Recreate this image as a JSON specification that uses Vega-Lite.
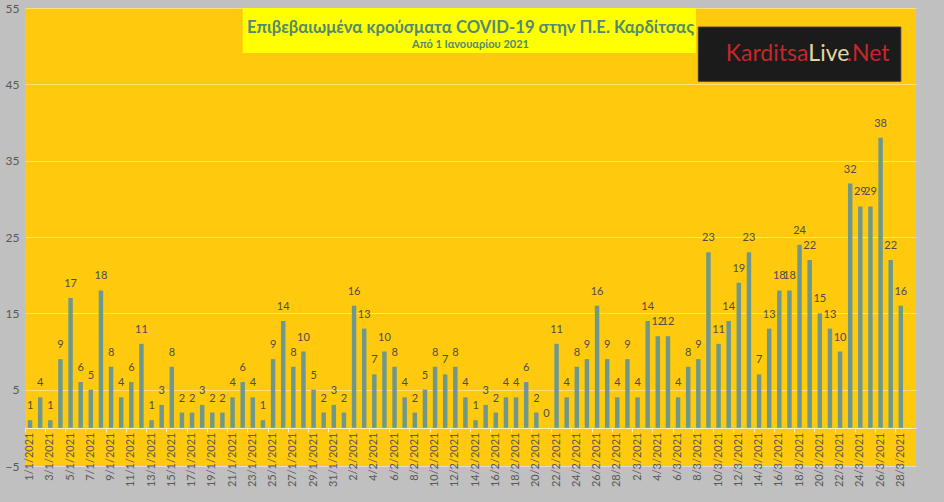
{
  "$schema": "https://vega.github.io/schema/vega-lite/v6.json",
  "width": 891,
  "height": 458,
  "autosize": {"type": "none"},
  "padding": {"left": 25, "top": 8, "right": 28, "bottom": 36},
  "background": "#c0c0c0",
  "title": {
    "text": "Επιβεβαιωμένα κρούσματα COVID-19 στην Π.Ε. Καρδίτσας",
    "subtitle": "Από 1 Ιανουαρίου 2021",
    "anchor": "middle",
    "frame": "group",
    "offset": -48,
    "font": "Lato",
    "fontSize": 16.7,
    "fontWeight": "bold",
    "color": "#528a72",
    "subtitleFont": "Lato",
    "subtitleFontSize": 11,
    "subtitleFontWeight": "bold",
    "subtitleColor": "#528a72",
    "subtitlePadding": 2
  },
  "data": {
    "values": [
      {"date": "1/1/2021", "cases": 1}, {"date": "2/1/2021", "cases": 4}, {"date": "3/1/2021", "cases": 1},
      {"date": "4/1/2021", "cases": 9}, {"date": "5/1/2021", "cases": 17}, {"date": "6/1/2021", "cases": 6},
      {"date": "7/1/2021", "cases": 5}, {"date": "8/1/2021", "cases": 18}, {"date": "9/1/2021", "cases": 8},
      {"date": "10/1/2021", "cases": 4}, {"date": "11/1/2021", "cases": 6}, {"date": "12/1/2021", "cases": 11},
      {"date": "13/1/2021", "cases": 1}, {"date": "14/1/2021", "cases": 3}, {"date": "15/1/2021", "cases": 8},
      {"date": "16/1/2021", "cases": 2}, {"date": "17/1/2021", "cases": 2}, {"date": "18/1/2021", "cases": 3},
      {"date": "19/1/2021", "cases": 2}, {"date": "20/1/2021", "cases": 2}, {"date": "21/1/2021", "cases": 4},
      {"date": "22/1/2021", "cases": 6}, {"date": "23/1/2021", "cases": 4}, {"date": "24/1/2021", "cases": 1},
      {"date": "25/1/2021", "cases": 9}, {"date": "26/1/2021", "cases": 14}, {"date": "27/1/2021", "cases": 8},
      {"date": "28/1/2021", "cases": 10}, {"date": "29/1/2021", "cases": 5}, {"date": "30/1/2021", "cases": 2},
      {"date": "31/1/2021", "cases": 3},
      {"date": "1/2/2021", "cases": 2}, {"date": "2/2/2021", "cases": 16}, {"date": "3/2/2021", "cases": 13},
      {"date": "4/2/2021", "cases": 7}, {"date": "5/2/2021", "cases": 10}, {"date": "6/2/2021", "cases": 8},
      {"date": "7/2/2021", "cases": 4}, {"date": "8/2/2021", "cases": 2}, {"date": "9/2/2021", "cases": 5},
      {"date": "10/2/2021", "cases": 8}, {"date": "11/2/2021", "cases": 7}, {"date": "12/2/2021", "cases": 8},
      {"date": "13/2/2021", "cases": 4}, {"date": "14/2/2021", "cases": 1}, {"date": "15/2/2021", "cases": 3},
      {"date": "16/2/2021", "cases": 2}, {"date": "17/2/2021", "cases": 4}, {"date": "18/2/2021", "cases": 4},
      {"date": "19/2/2021", "cases": 6}, {"date": "20/2/2021", "cases": 2}, {"date": "21/2/2021", "cases": 0},
      {"date": "22/2/2021", "cases": 11}, {"date": "23/2/2021", "cases": 4}, {"date": "24/2/2021", "cases": 8},
      {"date": "25/2/2021", "cases": 9}, {"date": "26/2/2021", "cases": 16}, {"date": "27/2/2021", "cases": 9},
      {"date": "28/2/2021", "cases": 4},
      {"date": "1/3/2021", "cases": 9}, {"date": "2/3/2021", "cases": 4}, {"date": "3/3/2021", "cases": 14},
      {"date": "4/3/2021", "cases": 12}, {"date": "5/3/2021", "cases": 12}, {"date": "6/3/2021", "cases": 4},
      {"date": "7/3/2021", "cases": 8}, {"date": "8/3/2021", "cases": 9}, {"date": "9/3/2021", "cases": 23},
      {"date": "10/3/2021", "cases": 11}, {"date": "11/3/2021", "cases": 14}, {"date": "12/3/2021", "cases": 19},
      {"date": "13/3/2021", "cases": 23}, {"date": "14/3/2021", "cases": 7}, {"date": "15/3/2021", "cases": 13},
      {"date": "16/3/2021", "cases": 18}, {"date": "17/3/2021", "cases": 18}, {"date": "18/3/2021", "cases": 24},
      {"date": "19/3/2021", "cases": 22}, {"date": "20/3/2021", "cases": 15}, {"date": "21/3/2021", "cases": 13},
      {"date": "22/3/2021", "cases": 10}, {"date": "23/3/2021", "cases": 32}, {"date": "24/3/2021", "cases": 29},
      {"date": "25/3/2021", "cases": 29}, {"date": "26/3/2021", "cases": 38}, {"date": "27/3/2021", "cases": 22},
      {"date": "28/3/2021", "cases": 16}
    ]
  },
  "layer": [
    {
      "mark": {"type": "bar", "color": "#6f988c"},
      "encoding": {
        "x": {
          "field": "date",
          "type": "nominal",
          "scale": {
            "domain": [
              "1/1/2021", "2/1/2021", "3/1/2021", "4/1/2021", "5/1/2021", "6/1/2021", "7/1/2021", "8/1/2021",
              "9/1/2021", "10/1/2021", "11/1/2021", "12/1/2021", "13/1/2021", "14/1/2021", "15/1/2021", "16/1/2021",
              "17/1/2021", "18/1/2021", "19/1/2021", "20/1/2021", "21/1/2021", "22/1/2021", "23/1/2021", "24/1/2021",
              "25/1/2021", "26/1/2021", "27/1/2021", "28/1/2021", "29/1/2021", "30/1/2021", "31/1/2021",
              "1/2/2021", "2/2/2021", "3/2/2021", "4/2/2021", "5/2/2021", "6/2/2021", "7/2/2021", "8/2/2021",
              "9/2/2021", "10/2/2021", "11/2/2021", "12/2/2021", "13/2/2021", "14/2/2021", "15/2/2021", "16/2/2021",
              "17/2/2021", "18/2/2021", "19/2/2021", "20/2/2021", "21/2/2021", "22/2/2021", "23/2/2021", "24/2/2021",
              "25/2/2021", "26/2/2021", "27/2/2021", "28/2/2021",
              "1/3/2021", "2/3/2021", "3/3/2021", "4/3/2021", "5/3/2021", "6/3/2021", "7/3/2021", "8/3/2021",
              "9/3/2021", "10/3/2021", "11/3/2021", "12/3/2021", "13/3/2021", "14/3/2021", "15/3/2021", "16/3/2021",
              "17/3/2021", "18/3/2021", "19/3/2021", "20/3/2021", "21/3/2021", "22/3/2021", "23/3/2021", "24/3/2021",
              "25/3/2021", "26/3/2021", "27/3/2021", "28/3/2021", "29/3/2021"
            ],
            "paddingInner": 0.56,
            "paddingOuter": 0.28
          },
          "axis": {
            "values": [
              "1/1/2021", "3/1/2021", "5/1/2021", "7/1/2021", "9/1/2021", "11/1/2021", "13/1/2021", "15/1/2021",
              "17/1/2021", "19/1/2021", "21/1/2021", "23/1/2021", "25/1/2021", "27/1/2021", "29/1/2021", "31/1/2021",
              "2/2/2021", "4/2/2021", "6/2/2021", "8/2/2021", "10/2/2021", "12/2/2021", "14/2/2021", "16/2/2021",
              "18/2/2021", "20/2/2021", "22/2/2021", "24/2/2021", "26/2/2021", "28/2/2021",
              "2/3/2021", "4/3/2021", "6/3/2021", "8/3/2021", "10/3/2021", "12/3/2021", "14/3/2021", "16/3/2021",
              "18/3/2021", "20/3/2021", "22/3/2021", "24/3/2021", "26/3/2021", "28/3/2021"
            ],
            "orient": "bottom",
            "title": null,
            "labelAngle": -90,
            "offset": -38,
            "ticks": false,
            "grid": false,
            "domainColor": "#ffffff",
            "domainOpacity": 0.7,
            "labelPadding": 4,
            "labelFont": "Lato",
            "labelFontSize": 11,
            "labelColor": "#595959"
          }
        },
        "y": {
          "field": "cases",
          "type": "quantitative",
          "scale": {"domain": [-5, 55], "nice": false, "zero": false},
          "axis": {
            "values": [-5, 5, 15, 25, 35, 45, 55],
            "title": null,
            "grid": true,
            "gridColor": "#ffffff",
            "gridOpacity": 0.45,
            "ticks": false,
            "domain": false,
            "labelFlush": false,
            "labelPadding": 6,
            "labelFont": "Lato",
            "labelFontSize": 12,
            "labelColor": "#595959"
          }
        },
        "y2": {"datum": 0}
      }
    },
    {
      "mark": {"type": "text", "baseline": "middle", "dy": -14, "font": "Lato", "fontSize": 11, "color": "#4d4d4d"},
      "encoding": {
        "x": {
          "field": "date",
          "type": "nominal",
          "axis": {
            "values": [
              "1/1/2021", "3/1/2021", "5/1/2021", "7/1/2021", "9/1/2021", "11/1/2021", "13/1/2021", "15/1/2021",
              "17/1/2021", "19/1/2021", "21/1/2021", "23/1/2021", "25/1/2021", "27/1/2021", "29/1/2021", "31/1/2021",
              "2/2/2021", "4/2/2021", "6/2/2021", "8/2/2021", "10/2/2021", "12/2/2021", "14/2/2021", "16/2/2021",
              "18/2/2021", "20/2/2021", "22/2/2021", "24/2/2021", "26/2/2021", "28/2/2021",
              "2/3/2021", "4/3/2021", "6/3/2021", "8/3/2021", "10/3/2021", "12/3/2021", "14/3/2021", "16/3/2021",
              "18/3/2021", "20/3/2021", "22/3/2021", "24/3/2021", "26/3/2021", "28/3/2021"
            ],
            "orient": "bottom",
            "title": null,
            "labels": false,
            "domain": false,
            "grid": false,
            "ticks": true,
            "bandPosition": -0.636,
            "offset": -38,
            "tickSize": 4,
            "tickColor": "#ffffff",
            "tickOpacity": 0.7
          }
        },
        "y": {"field": "cases", "type": "quantitative"},
        "text": {"field": "cases", "type": "quantitative"}
      }
    },
    {
      "data": {"values": [{"item": "title box"}]},
      "mark": {"type": "rect", "color": "#ffff00"},
      "encoding": {
        "x": {"datum": "22/1/2021", "axis": null},
        "x2": {"datum": "8/3/2021", "bandPosition": 0},
        "y": {"datum": 55},
        "y2": {"datum": 49.1}
      }
    },
    {
      "data": {"values": [{"item": "logo"}]},
      "mark": {"type": "rect", "color": "#1b1b1b", "stroke": "#3a3a3a", "strokeWidth": 1},
      "encoding": {
        "x": {"datum": "8/3/2021", "axis": null},
        "x2": {"datum": "28/3/2021"},
        "y": {"datum": 52.5},
        "y2": {"datum": 45.4}
      }
    },
    {
      "data": {"values": [{"item": "logo"}]},
      "mark": {"type": "text", "text": "Karditsa", "align": "right", "baseline": "middle", "font": "Lato", "fontSize": 23, "color": "#c8262b"},
      "encoding": {
        "x": {"datum": "19/3/2021", "bandPosition": 0.2, "axis": null},
        "y": {"datum": 49}
      }
    },
    {
      "data": {"values": [{"item": "logo"}]},
      "mark": {"type": "text", "text": "Live", "align": "left", "baseline": "middle", "font": "Lato", "fontSize": 23, "color": "#e6d6a2"},
      "encoding": {
        "x": {"datum": "19/3/2021", "bandPosition": 0.2, "axis": null},
        "y": {"datum": 49}
      }
    },
    {
      "data": {"values": [{"item": "logo"}]},
      "mark": {"type": "text", "text": ".Net", "align": "left", "baseline": "middle", "font": "Lato", "fontSize": 23, "color": "#c8262b"},
      "encoding": {
        "x": {"datum": "23/3/2021", "bandPosition": -0.3, "axis": null},
        "y": {"datum": 49}
      }
    }
  ],
  "resolve": {"axis": {"x": "independent"}},
  "config": {
    "view": {"fill": "#ffc90e", "stroke": null}
  }
}
